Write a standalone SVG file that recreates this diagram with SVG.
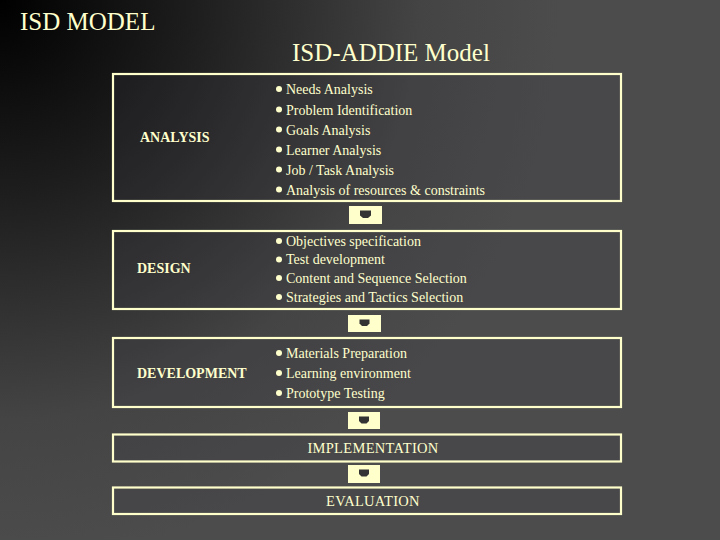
<svg xmlns="http://www.w3.org/2000/svg" width="720" height="540" viewBox="0 0 720 540">
<defs>
<radialGradient id="bg" cx="0" cy="0" r="560" gradientUnits="userSpaceOnUse">
<stop offset="0" stop-color="#000000"/>
<stop offset="0.35" stop-color="#1e1e1e"/>
<stop offset="0.75" stop-color="#444444"/>
<stop offset="1" stop-color="#4c4c4c"/>
</radialGradient>
<style>
.box{fill:#3c3c46;fill-opacity:0.22;stroke:#FFFFCC;stroke-width:2.2}
.t{font-family:"Liberation Serif","Times New Roman",serif;fill:#FFFFCC}
.title{font-size:25px}
.lbl{font-size:14px;font-weight:bold}
.item{font-size:14px}
.big{font-size:14.5px;text-anchor:middle;letter-spacing:0.3px}
.bul{fill:#FFFFCC}
.conn{fill:#FFFFCC}
.mark{fill:#333333}
</style>
</defs>
<rect width="720" height="540" fill="url(#bg)"/>
<text class="t title" x="20" y="30" font-family="Liberation Serif, serif">ISD MODEL</text>
<text class="t title" x="292" y="61" font-family="Liberation Serif, serif">ISD-ADDIE Model</text>

<g id="analysis">
<rect class="box" x="113" y="74" width="508" height="127"/>
<text class="t lbl" x="140" y="142">ANALYSIS</text>
<circle class="bul" cx="279" cy="89" r="3"/>
<circle class="bul" cx="279" cy="109.5" r="3"/>
<circle class="bul" cx="279" cy="129.5" r="3"/>
<circle class="bul" cx="279" cy="149.5" r="3"/>
<circle class="bul" cx="279" cy="169.5" r="3"/>
<circle class="bul" cx="279" cy="189.5" r="3"/>
<text class="t item" x="286" y="94">Needs Analysis</text>
<text class="t item" x="286" y="114.5">Problem Identification</text>
<text class="t item" x="286" y="134.5">Goals Analysis</text>
<text class="t item" x="286" y="154.5">Learner Analysis</text>
<text class="t item" x="286" y="174.5">Job / Task Analysis</text>
<text class="t item" x="286" y="194.5">Analysis of resources &amp; constraints</text>
</g>

<g id="design">
<rect class="box" x="113" y="231" width="508" height="78"/>
<text class="t lbl" x="137" y="273">DESIGN</text>
<circle class="bul" cx="279" cy="241" r="3"/>
<circle class="bul" cx="279" cy="259.5" r="3"/>
<circle class="bul" cx="279" cy="278" r="3"/>
<circle class="bul" cx="279" cy="297" r="3"/>
<text class="t item" x="286" y="245.5">Objectives specification</text>
<text class="t item" x="286" y="264">Test development</text>
<text class="t item" x="286" y="282.5">Content and Sequence Selection</text>
<text class="t item" x="286" y="301.5">Strategies and Tactics Selection</text>
</g>

<g id="development">
<rect class="box" x="113" y="338" width="508" height="69"/>
<text class="t lbl" x="137" y="378">DEVELOPMENT</text>
<circle class="bul" cx="279" cy="353" r="3"/>
<circle class="bul" cx="279" cy="373" r="3"/>
<circle class="bul" cx="279" cy="393" r="3"/>
<text class="t item" x="286" y="357.5">Materials Preparation</text>
<text class="t item" x="286" y="377.5">Learning environment</text>
<text class="t item" x="286" y="397.5">Prototype Testing</text>
</g>

<g id="implementation">
<rect class="box" x="113" y="434.5" width="508" height="27"/>
<text class="t big" x="373" y="453">IMPLEMENTATION</text>
</g>

<g id="evaluation">
<rect class="box" x="113" y="487.5" width="508" height="26.5"/>
<text class="t big" x="373" y="505.5">EVALUATION</text>
</g>

<g id="connectors">
<rect class="conn" x="349" y="206" width="33" height="18"/>
<path class="mark" d="M360,210.5 h11 v5 l-3,2.5 h-5 l-3,-2.5 z"/>
<rect class="conn" x="348" y="315" width="33" height="17"/>
<path class="mark" d="M359.5,319.5 h10 v4 l-2.5,2.5 h-5 l-2.5,-2.5 z"/>
<rect class="conn" x="348" y="412" width="32" height="17"/>
<path class="mark" d="M359,416.5 h10 v4.5 l-2.5,2.5 h-5 l-2.5,-2.5 z"/>
<rect class="conn" x="348" y="465" width="32" height="18"/>
<path class="mark" d="M359,469.5 h10 v4.5 l-2.5,2.5 h-5 l-2.5,-2.5 z"/>
</g>
</svg>
